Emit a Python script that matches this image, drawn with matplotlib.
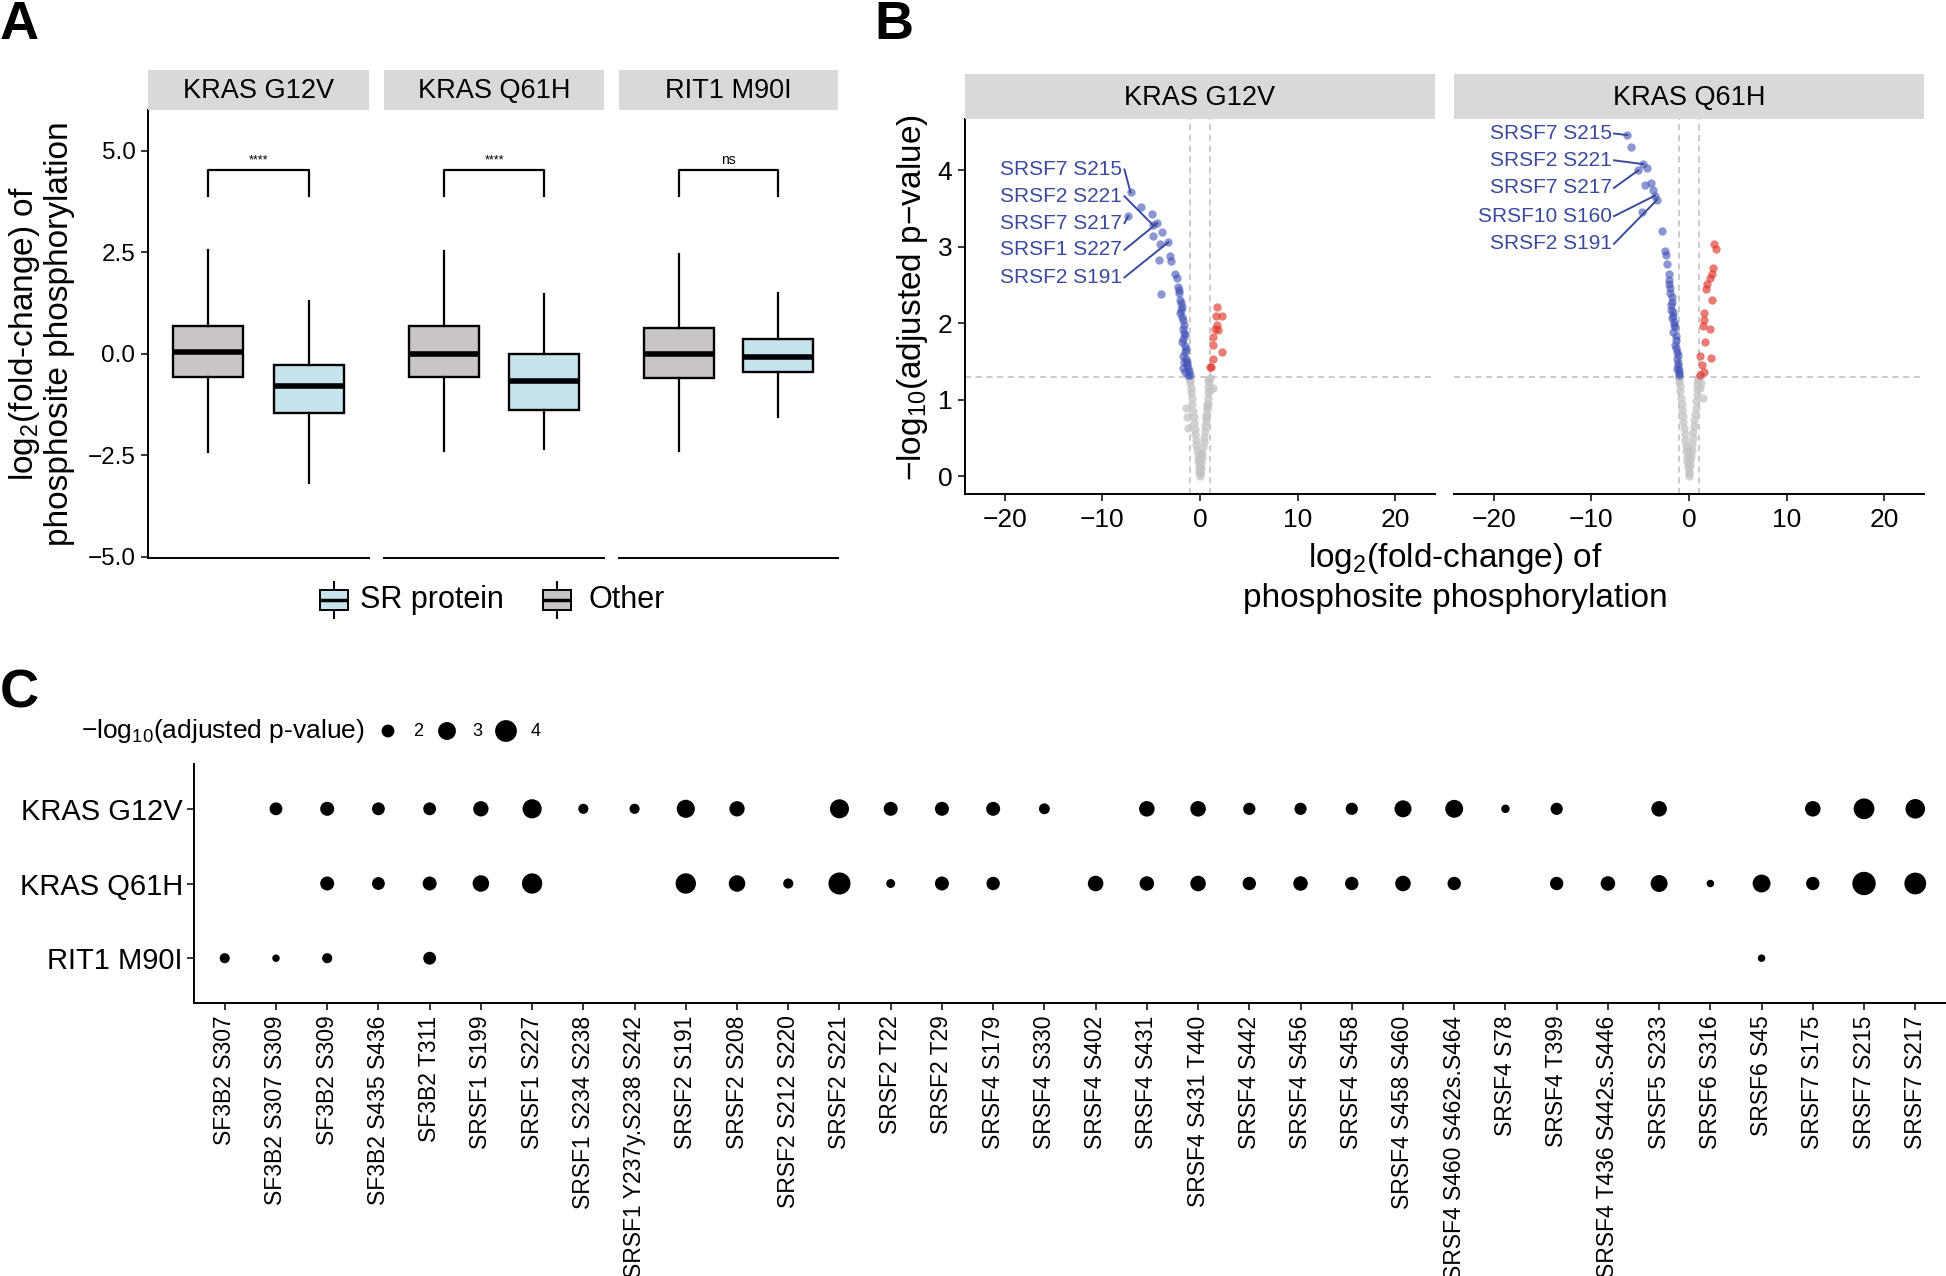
import numpy as np
import matplotlib
matplotlib.use('Agg')
import matplotlib.pyplot as plt
from matplotlib.patches import Rectangle

plt.rcParams['font.family'] = ['Liberation Sans', 'DejaVu Sans']
plt.rcParams['mathtext.fontset'] = 'custom'
plt.rcParams['mathtext.rm'] = 'Liberation Sans'
plt.rcParams['mathtext.it'] = 'Liberation Sans:italic'
plt.rcParams['mathtext.bf'] = 'Liberation Sans:bold'

# ---------------- DATA ----------------
# Panel A: boxplot statistics [whisker low, q1, median, q3, whisker high]
mutations_A = ['KRAS G12V', 'KRAS Q61H', 'RIT1 M90I']
groups_A = ['Other', 'SR protein']
box_other = [[-2.43, -0.57, 0.05, 0.68, 2.55],
             [-2.40, -0.57, 0.00, 0.68, 2.53],
             [-2.40, -0.59, 0.00, 0.63, 2.45]]
box_sr = [[-3.19, -1.45, -0.80, -0.28, 1.29],
          [-2.35, -1.38, -0.66, -0.01, 1.46],
          [-1.57, -0.45, -0.08, 0.35, 1.50]]
sig_labels = ['****', '****', 'ns']
yticks_A = [-5.0, -2.5, 0.0, 2.5, 5.0]

# Panel B: volcano points (log2 FC, -log10 adj p)
mutations_B = ['KRAS G12V', 'KRAS Q61H']
g12v_down_fc = [-7.12, -6.10, -7.36, -4.90, -4.38, -4.79, -3.87, -4.86, -4.11, -3.25, -4.18, -3.08, -2.98,
                -4.00, -2.57, -2.40, -2.23, -2.12, -2.05, -1.88, -2.05, -1.71, -1.78, -1.54, -1.88, -1.44,
                -1.71, -1.30, -1.71, -1.10, -1.20, -2.20, -1.95, -1.90, -1.80, -1.65, -1.60, -1.70, -1.50,
                -1.55, -1.40, -1.35, -1.50, -1.05, -1.25, -1.62]
g12v_down_p = [3.71, 3.52, 3.40, 3.43, 3.31, 3.28, 3.20, 3.14, 3.04, 3.06, 2.83, 2.88, 2.82,
               2.38, 2.64, 2.59, 2.48, 2.39, 2.31, 2.22, 2.13, 2.04, 1.93, 1.85, 1.75, 1.66,
               1.57, 1.49, 1.41, 1.38, 1.33, 2.44, 2.27, 2.18, 2.08, 1.98, 1.88, 1.80, 1.70,
               1.62, 1.53, 1.45, 1.36, 1.32, 1.42, 1.50]
g12v_up_fc = [1.78, 2.29, 1.64, 1.71, 1.54, 1.88, 1.37, 1.37, 2.29, 1.30, 1.13, 1.03]
g12v_up_p = [2.22, 2.10, 2.09, 1.98, 1.93, 1.91, 1.82, 1.72, 1.63, 1.53, 1.43, 1.43]
g12v_ns_fc = [0.00, -0.05, 0.05, -0.10, 0.10, -0.15, 0.15, -0.20, 0.20, -0.25, 0.25, -0.30, 0.30, -0.36,
              0.36, -0.42, 0.42, -0.48, 0.47, -0.54, 0.52, -0.60, 0.57, -0.66, 0.62, -0.72, 0.67, -0.78,
              0.72, -0.84, 0.77, -0.90, 0.82, -0.95, 0.87, -1.00, 0.92, -1.05, 0.97, -1.10, 1.00,
              -1.44, -1.30, -1.20, 1.37, 0.86, 0.75, 0.62, 0.86, 1.03, 0.02, -0.08, 0.08, -0.12, 0.00]
g12v_ns_p = [0.00, 0.04, 0.05, 0.10, 0.11, 0.16, 0.17, 0.22, 0.24, 0.28, 0.31, 0.34, 0.38, 0.41,
             0.45, 0.48, 0.52, 0.55, 0.59, 0.62, 0.66, 0.70, 0.73, 0.78, 0.80, 0.86, 0.88, 0.94,
             0.95, 1.02, 1.02, 1.10, 1.10, 1.16, 1.17, 1.22, 1.22, 1.26, 1.27, 1.29, 1.29,
             0.89, 0.78, 0.63, 1.16, 1.26, 0.91, 0.78, 0.95, 1.13, 0.12, 0.20, 0.28, 0.06, 0.30]
q61h_down_fc = [-6.32, -5.91, -4.67, -4.33, -5.19, -4.50, -3.92, -3.72, -3.48, -3.30, -4.85, -2.79, -2.45,
                -2.35, -2.28, -2.07, -2.10, -1.93, -1.76, -1.86, -1.66, -1.76, -1.52, -1.59, -1.32, -1.42,
                -1.18, -1.25, -1.08, -0.98, -1.04, -2.00, -1.90, -1.70, -1.60, -1.45, -1.35, -1.30, -1.15,
                -1.10, -1.20, -1.00, -1.55, -1.80]
q61h_down_p = [4.46, 4.30, 4.08, 4.03, 4.00, 3.81, 3.84, 3.74, 3.67, 3.61, 3.45, 3.21, 2.94,
               2.89, 2.78, 2.65, 2.57, 2.46, 2.35, 2.24, 2.15, 2.07, 1.98, 1.89, 1.83, 1.72,
               1.63, 1.54, 1.48, 1.39, 1.35, 2.52, 2.40, 2.28, 2.10, 1.95, 1.78, 1.68, 1.58,
               1.44, 1.40, 1.32, 2.02, 2.18]
q61h_up_fc = [2.59, 2.76, 2.45, 2.35, 2.11, 1.83, 1.76, 2.35, 1.56, 1.49, 1.39, 2.11, 1.63, 1.08, 2.25,
              1.32, 1.49, 1.15]
q61h_up_p = [3.04, 2.97, 2.72, 2.65, 2.59, 2.52, 2.45, 2.30, 2.13, 2.04, 1.96, 1.93, 1.76, 1.57, 1.55,
             1.46, 1.37, 1.33]
q61h_ns_fc = [0.00, -0.05, 0.05, -0.10, 0.10, -0.16, 0.15, -0.22, 0.20, -0.28, 0.26, -0.34, 0.32, -0.40,
              0.38, -0.46, 0.44, -0.52, 0.50, -0.58, 0.56, -0.64, 0.62, -0.70, 0.67, -0.76, 0.72, -0.82,
              0.77, -0.88, 0.82, -0.93, 0.87, -0.98, 0.92, -1.02, 0.96, -1.05, 1.00, 1.42, 1.15, 1.25,
              -0.03, 0.07, -0.10]
q61h_ns_p = [0.00, 0.05, 0.06, 0.12, 0.13, 0.19, 0.20, 0.26, 0.27, 0.33, 0.35, 0.40, 0.42, 0.47,
             0.50, 0.55, 0.58, 0.63, 0.66, 0.71, 0.74, 0.79, 0.82, 0.87, 0.90, 0.95, 0.98, 1.03,
             1.06, 1.11, 1.14, 1.18, 1.21, 1.24, 1.26, 1.28, 1.29, 1.30, 1.30, 1.02, 1.15, 1.22,
             0.15, 0.25, 0.35]
g12v_label_names = ['SRSF7 S215', 'SRSF2 S221', 'SRSF7 S217', 'SRSF1 S227', 'SRSF2 S191']
g12v_label_fc = [-7.12, -4.79, -7.36, -4.38, -3.25]
g12v_label_p = [3.71, 3.28, 3.40, 3.31, 3.06]
q61h_label_names = ['SRSF7 S215', 'SRSF2 S221', 'SRSF7 S217', 'SRSF10 S160', 'SRSF2 S191']
q61h_label_fc = [-6.32, -4.67, -5.19, -3.48, -3.30]
q61h_label_p = [4.46, 4.08, 4.00, 3.67, 3.61]

# Panel C: dot plot of -log10(adjusted p-value)
sites_C = ['SF3B2 S307', 'SF3B2 S307 S309', 'SF3B2 S309', 'SF3B2 S435 S436', 'SF3B2 T311',
           'SRSF1 S199', 'SRSF1 S227', 'SRSF1 S234 S238', 'SRSF1 Y237y.S238 S242', 'SRSF2 S191',
           'SRSF2 S208', 'SRSF2 S212 S220', 'SRSF2 S221', 'SRSF2 T22', 'SRSF2 T29', 'SRSF4 S179',
           'SRSF4 S330', 'SRSF4 S402', 'SRSF4 S431', 'SRSF4 S431 T440', 'SRSF4 S442', 'SRSF4 S456',
           'SRSF4 S458', 'SRSF4 S458 S460', 'SRSF4 S460 S462s.S464', 'SRSF4 S78', 'SRSF4 T399',
           'SRSF4 T436 S442s.S446', 'SRSF5 S233', 'SRSF6 S316', 'SRSF6 S45', 'SRSF7 S175',
           'SRSF7 S215', 'SRSF7 S217']
nan = np.nan
dot_g12v = [nan, 2.0, 2.2, 2.0, 2.0, 2.45, 3.31, 1.6, 1.6, 3.06, 2.45, nan, 3.28, 2.2, 2.2, 2.2, 1.7,
            nan, 2.5, 2.5, 1.9, 1.9, 1.9, 2.8, 3.0, 1.4, 1.9, nan, 2.5, nan, nan, 2.5, 3.71, 3.40]
dot_q61h = [nan, nan, 2.2, 2.0, 2.2, 2.7, 3.6, nan, nan, 3.61, 2.7, 1.6, 4.08, 1.45, 2.2, 2.1, nan,
            2.5, 2.3, 2.5, 2.1, 2.3, 2.1, 2.5, 2.1, nan, 2.1, 2.3, 2.8, 1.3, 3.0, 2.1, 4.46, 4.00]
dot_rit1 = [1.6, 1.3, 1.6, nan, 2.0, nan, nan, nan, nan, nan, nan, nan, nan, nan, nan, nan, nan,
            nan, nan, nan, nan, nan, nan, nan, nan, nan, nan, nan, nan, nan, 1.3, nan, nan, nan]
rows_C = ['RIT1 M90I', 'KRAS Q61H', 'KRAS G12V']
legend_sizes_C = [2, 3, 4]

# ---------------- FIGURE ----------------
W, H = 1946, 1276
DPI = 100
fig = plt.figure(figsize=(W / DPI, H / DPI), dpi=DPI)


def add_ax(x0, y0, x1, y1, **kw):
    return fig.add_axes([x0 / W, 1 - y1 / H, (x1 - x0) / W, (y1 - y0) / H], **kw)


def fmt_minus(v, fmt):
    s = fmt.format(v)
    return s.replace('-', '\u2212')


STRIP = '#D9D9D9'
OTHER_C = '#C9C5C5'
SR_C = '#C6E3EE'
SPINE_LW = 1.4
BLUE = '#3F51B5'
RED = '#E0352B'
GREY = '#C4C4C4'
LAB_BLUE = '#3A4A9E'


def strip(x0, x1, y0, y1, text):
    s = add_ax(x0, y0, x1, y1)
    s.set_facecolor(STRIP)
    for sp in s.spines.values():
        sp.set_visible(False)
    s.set_xticks([]); s.set_yticks([])
    s.text(0.5, 0.47, text, ha='center', va='center', fontsize=19.5, transform=s.transAxes)


# ---- Panel A ----
A_cols = [(148, 369), (384, 604), (619, 838)]
A_top, A_bot = 110, 558
for i, (x0, x1) in enumerate(A_cols):
    ax = add_ax(x0, A_top, x1, A_bot)
    strip(x0, x1, 70, A_top, mutations_A[i])
    stats = []
    for b in (box_other[i], box_sr[i]):
        stats.append(dict(whislo=b[0], q1=b[1], med=b[2], q3=b[3], whishi=b[4], fliers=[]))
    res = ax.bxp(stats, positions=[1, 2], widths=0.7, patch_artist=True, showfliers=False,
                 showcaps=False,
                 boxprops=dict(edgecolor='black', linewidth=1.7),
                 medianprops=dict(color='black', linewidth=4.0, solid_capstyle='butt'),
                 whiskerprops=dict(color='black', linewidth=1.6))
    res['boxes'][0].set_facecolor(OTHER_C)
    res['boxes'][1].set_facecolor(SR_C)
    ax.plot([1, 1, 2, 2], [3.88, 4.52, 4.52, 3.88], color='black', lw=1.6)
    ax.text(1.5, 4.6, sig_labels[i], ha='center', va='bottom', fontsize=9 if sig_labels[i] != 'ns' else 10)
    ax.set_xlim(0.4, 2.6)
    ax.set_ylim(-5.03, 6.0)
    ax.set_xticks([])
    ax.spines['top'].set_visible(False)
    ax.spines['right'].set_visible(False)
    ax.spines['bottom'].set_linewidth(SPINE_LW)
    if i == 0:
        ax.spines['left'].set_linewidth(SPINE_LW)
        ax.set_yticks(yticks_A)
        ax.set_yticklabels([fmt_minus(v, '{:.1f}') for v in yticks_A], fontsize=17.5)
        ax.tick_params(axis='y', length=5, width=1.1, pad=4)
    else:
        ax.spines['left'].set_visible(False)
        ax.set_yticks([])
    ax.patch.set_alpha(0)

# ---- Panel B ----
B_cols = [(965, 1435), (1454, 1924)]
B_top, B_bot = 119, 494
volc = [(g12v_down_fc, g12v_down_p, g12v_up_fc, g12v_up_p, g12v_ns_fc, g12v_ns_p,
         g12v_label_names, g12v_label_fc, g12v_label_p),
        (q61h_down_fc, q61h_down_p, q61h_up_fc, q61h_up_p, q61h_ns_fc, q61h_ns_p,
         q61h_label_names, q61h_label_fc, q61h_label_p)]
label_y_pos = [[4.01, 3.66, 3.31, 2.96, 2.60], [4.48, 4.13, 3.77, 3.40, 3.04]]
label_x_pos = [-8.0, -7.94]
xticks_B = [-20, -10, 0, 10, 20]
for i, (x0, x1) in enumerate(B_cols):
    ax = add_ax(x0, B_top, x1, B_bot)
    strip(x0, x1, 74, B_top, mutations_B[i])
    dfc, dp, ufc, up, nfc, np_, lnames, lfc, lp = volc[i]
    ax.axvline(-1, color='#BDBDBD', lw=1.1, ls=(0, (4, 3)), zorder=1)
    ax.axvline(1, color='#BDBDBD', lw=1.1, ls=(0, (4, 3)), zorder=1)
    ax.axhline(-np.log10(0.05), color='#BDBDBD', lw=1.1, ls=(0, (4, 3)), zorder=1)
    ax.scatter(nfc, np_, s=36, c=GREY, alpha=0.75, linewidths=0, zorder=2)
    ax.scatter(dfc, dp, s=36, c=BLUE, alpha=0.6, linewidths=0, zorder=3)
    ax.scatter(ufc, up, s=36, c=RED, alpha=0.65, linewidths=0, zorder=3)
    for name, fx, fy, ty in zip(lnames, lfc, lp, label_y_pos[i]):
        tx = label_x_pos[i]
        ax.text(tx, ty, name, ha='right', va='center', fontsize=15, color=LAB_BLUE, zorder=5)
        ax.plot([tx + 0.25, fx], [ty, fy], color=LAB_BLUE, lw=1.4, zorder=4)
    ax.set_xlim(-24.1, 24.1)
    ax.set_ylim(-0.23, 4.67)
    ax.set_xticks(xticks_B)
    ax.set_xticklabels([fmt_minus(v, '{:d}') for v in xticks_B], fontsize=19)
    ax.tick_params(axis='x', length=5, width=1.1, pad=5)
    ax.spines['top'].set_visible(False)
    ax.spines['right'].set_visible(False)
    ax.spines['bottom'].set_linewidth(SPINE_LW)
    if i == 0:
        ax.spines['left'].set_linewidth(SPINE_LW)
        ax.set_yticks([0, 1, 2, 3, 4])
        ax.set_yticklabels(['0', '1', '2', '3', '4'], fontsize=19)
        ax.tick_params(axis='y', length=5, width=1.1, pad=4)
    else:
        ax.spines['left'].set_visible(False)
        ax.set_yticks([])
    ax.patch.set_alpha(0)


# ---- Panel C ----
def dot_size(v):
    return 80.4 * (np.asarray(v, dtype=float) - 0.94)


axc = add_ax(194, 764, 1946, 1003)
row_vals = {'KRAS G12V': dot_g12v, 'KRAS Q61H': dot_q61h, 'RIT1 M90I': dot_rit1}
for r, name in enumerate(rows_C):
    vals = np.array(row_vals[name], dtype=float)
    xs = np.arange(len(sites_C))
    m = ~np.isnan(vals)
    axc.scatter(xs[m], np.full(m.sum(), r), s=dot_size(vals[m]), c='black', linewidths=0, clip_on=False)
axc.set_xlim(-0.6, len(sites_C) - 0.4)
axc.set_ylim(-0.6, 2.6)
axc.set_yticks(range(len(rows_C)))
axc.set_yticklabels(rows_C, fontsize=21)
axc.set_xticks(range(len(sites_C)))
axc.set_xticklabels(sites_C, rotation=90, fontsize=16.5, ha='center', va='top')
axc.tick_params(axis='both', length=5, width=1.1)
axc.tick_params(axis='y', pad=3)
axc.tick_params(axis='x', pad=4)
axc.spines['top'].set_visible(False)
axc.spines['right'].set_visible(False)
axc.spines['left'].set_linewidth(SPINE_LW)
axc.spines['bottom'].set_linewidth(SPINE_LW)
axc.patch.set_alpha(0)

# ---- Overlay: labels, legends ----
ov = fig.add_axes([0, 0, 1, 1], zorder=10)
ov.set_xlim(0, W)
ov.set_ylim(H, 0)
ov.axis('off')

ov.text(0, 39, 'A', fontsize=39, fontweight='bold', ha='left', va='baseline')
ov.text(874, 39, 'B', fontsize=39, fontweight='bold', ha='left', va='baseline')
ov.text(0, 707, 'C', fontsize=39, fontweight='bold', ha='left', va='baseline')

# Panel A y label
ov.text(41, 334, 'log$_2$(fold-change) of\nphosphosite phosphorylation', rotation=90,
        ha='center', va='center', fontsize=24, multialignment='center', linespacing=1.05)

# Panel A legend
for kx, col, lab, tx in [(320, SR_C, 'SR protein', 360), (543, OTHER_C, 'Other', 588)]:
    ov.plot([kx + 14, kx + 14], [582, 618], color='black', lw=1.4)
    ov.add_patch(Rectangle((kx, 590), 28, 20, facecolor=col, edgecolor='black', lw=1.4, zorder=3))
    ov.plot([kx, kx + 28], [600, 600], color='black', lw=2.5, solid_capstyle='butt', zorder=4)
    ov.text(tx, 600, lab, ha='left', va='center', fontsize=22)

# Panel B axis labels
ov.text(912, 298, '\u2212log$_{10}$(adjusted p\u2212value)', rotation=90, ha='center', va='center',
        fontsize=24)
ov.text(1455, 558, 'log$_2$(fold-change) of', ha='center', va='center', fontsize=24)
ov.text(1455, 598, 'phosphosite phosphorylation', ha='center', va='center', fontsize=24)

# Panel C size legend
ov.text(81, 731, '\u2212log$_{10}$(adjusted p-value)', ha='left', va='center', fontsize=19)
leg_x = [388, 447, 506]
ov.scatter(leg_x, [731] * 3, s=dot_size(legend_sizes_C), c='black', linewidths=0)
for lx, v in zip(leg_x, legend_sizes_C):
    ov.text(lx + 30, 731, str(v), ha='center', va='center', fontsize=13)

fig.savefig('out.png', dpi=DPI)
